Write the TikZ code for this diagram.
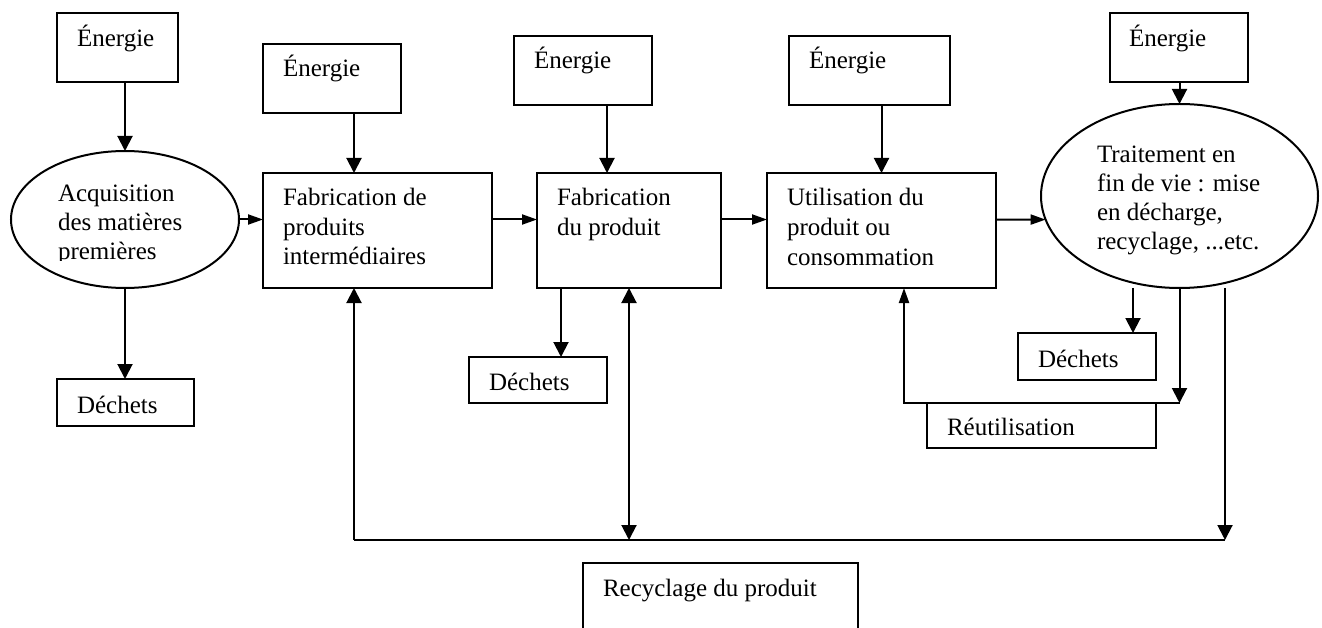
\documentclass[tikz,border=0pt]{standalone}
\usepackage{fontspec}
\setmainfont{Liberation Serif}
\usetikzlibrary{arrows.meta,shapes.geometric,calc}
\newcommand\txtlines[2]{\vtop{\baselineskip=#1pt\relax #2}}
\begin{document}
\begin{tikzpicture}[x=1pt,y=-1pt,
  line width=2pt,
  box/.style={draw, rectangle, inner sep=0pt, outer sep=0pt},
  ell/.style={draw, ellipse, inner sep=0pt, outer sep=0pt},
  txt/.style={anchor=base west, inner sep=0pt, outer sep=0pt, font=\fontsize{25}{29}\selectfont},
  arrbig/.style={-{Triangle[length=15pt,width=15pt]}},
  arrsmall/.style={-{Triangle[length=15pt,width=10pt]}},
  arrboth/.style={{Triangle[length=15pt,width=15pt]}-{Triangle[length=15pt,width=15pt]}}
]
\useasboundingbox (0,0) rectangle (1322,628);
\clip (0,0) rectangle (1322,628);

% energy boxes
\node[box, minimum width=121pt, minimum height=69pt] (e1) at (117.5,47.5) {};
\node[box, minimum width=138pt, minimum height=69pt] (e2) at (332,78.5) {};
\node[box, minimum width=138pt, minimum height=69pt] (e3) at (583,70.5) {};
\node[box, minimum width=161pt, minimum height=69pt] (e4) at (869.5,70.5) {};
\node[box, minimum width=138pt, minimum height=69pt] (e5) at (1179,47.5) {};

% main stages
\node[ell, minimum width=228pt, minimum height=137pt] (ell1) at (125,219.5) {};
\node[box, minimum width=229pt, minimum height=115pt] (fab1) at (377.5,230.5) {};
\node[box, minimum width=184pt, minimum height=115pt] (fab2) at (629,230.5) {};
\node[box, minimum width=229pt, minimum height=115pt] (util) at (881.5,230.5) {};
\node[ell, minimum width=277pt, minimum height=184pt] (ell2) at (1179.5,196) {};

% outputs
\node[box, minimum width=137pt, minimum height=47pt] (d1) at (125.5,402.5) {};
\node[box, minimum width=138pt, minimum height=46pt] (d2) at (538,380) {};
\node[box, minimum width=138pt, minimum height=47pt] (d3) at (1087,356.5) {};
\node[box, minimum width=229pt, minimum height=45pt] (reut) at (1041.5,425.5) {};
\node[box, minimum width=275pt, minimum height=100pt] (recyc) at (720.5,613) {};

% texts
\node[txt] (te1) at (77,47) {Énergie};
\node[txt] (te2) at (283,77) {Énergie};
\node[txt] (te3) at (534,69) {Énergie};
\node[txt] (te4) at (809,69) {Énergie};
\node[txt] (te5) at (1129,47) {Énergie};
\begin{scope}
\clip (30,160) rectangle (230,261);
\node[txt] (tell1) at (58,202) {\txtlines{28.9}{\hbox{Acquisition}\hbox{des matières}\hbox{premières}}};
\end{scope}
\node[txt] (tfab1) at (283,205.5) {\txtlines{29.7}{\hbox{Fabrication de}\hbox{produits}\hbox{intermédiaires}}};
\node[txt] (tfab2) at (557,205.5) {\txtlines{29.7}{\hbox{Fabrication}\hbox{du produit}}};
\node[txt] (tutil) at (787,206) {\txtlines{29.7}{\hbox{Utilisation du}\hbox{produit ou}\hbox{consommation}}};
\node[txt] (tell2) at (1097,163) {\txtlines{28.9}{\hbox{Traitement en}\hbox{fin de vie : mise}\hbox{en décharge,}\hbox{recyclage, ...etc.}}};
\node[txt] (td1) at (77,413) {Déchets};
\node[txt] (td2) at (489,390) {Déchets};
\node[txt] (td3) at (1038,367) {Déchets};
\node[txt] (treut) at (947,435) {Réutilisation};
\node[txt] (trecyc) at (603,596) {Recyclage du produit};

% helper coordinates
\coordinate (x2) at (354,0);
\coordinate (x3) at (607,0);
\coordinate (xd2) at (561,0);
\coordinate (xd3) at (1133,0);
\coordinate (xu) at (904,0);
\coordinate (bl) at (354,540);
\coordinate (br) at (1225,540);

% energy inputs
\draw[arrbig] (e1.south -| ell1.north) -- (ell1.north);
\draw[arrbig] (e2.south -| x2) -- (fab1.north -| x2);
\draw[arrbig] (e3.south -| x3) -- (fab2.north -| x3);
\draw[arrbig] (e4.south -| util.north) -- (util.north);
\draw[arrbig] (e5.south -| ell2.north) -- (ell2.north);

% main flow
\draw[arrsmall] (ell1.east) -- (ell1.east -| fab1.west);
\draw[arrsmall] (fab1.east |- ell1.east) -- (fab2.west |- ell1.east);
\draw[arrsmall] (fab2.east |- ell1.east) -- (util.west |- ell1.east);
\draw[arrsmall] (util.east |- ell1.east) -- (ell2.190);

% wastes
\draw[arrbig] (ell1.south) -- (ell1.south |- d1.north);
\draw[arrbig] (fab2.south -| xd2) -- (d2.north -| xd2);
\draw[arrbig] (ell2.south -| xd3) -- (d3.north -| xd3);

% reuse loop
\draw[arrbig] (ell2.south) -- (ell2.south |- reut.north);
\draw[arrsmall] (ell2.south |- reut.north) -- (reut.north -| xu) -- (util.south -| xu);

% recycling loop
\draw (bl) -- (br);
\draw[arrbig] (bl) -- (fab1.south -| bl);
\draw[arrboth] (fab2.south) -- (fab2.south |- bl);
\draw[arrbig] (ell2.south -| br) -- (br);
\end{tikzpicture}
\end{document}
